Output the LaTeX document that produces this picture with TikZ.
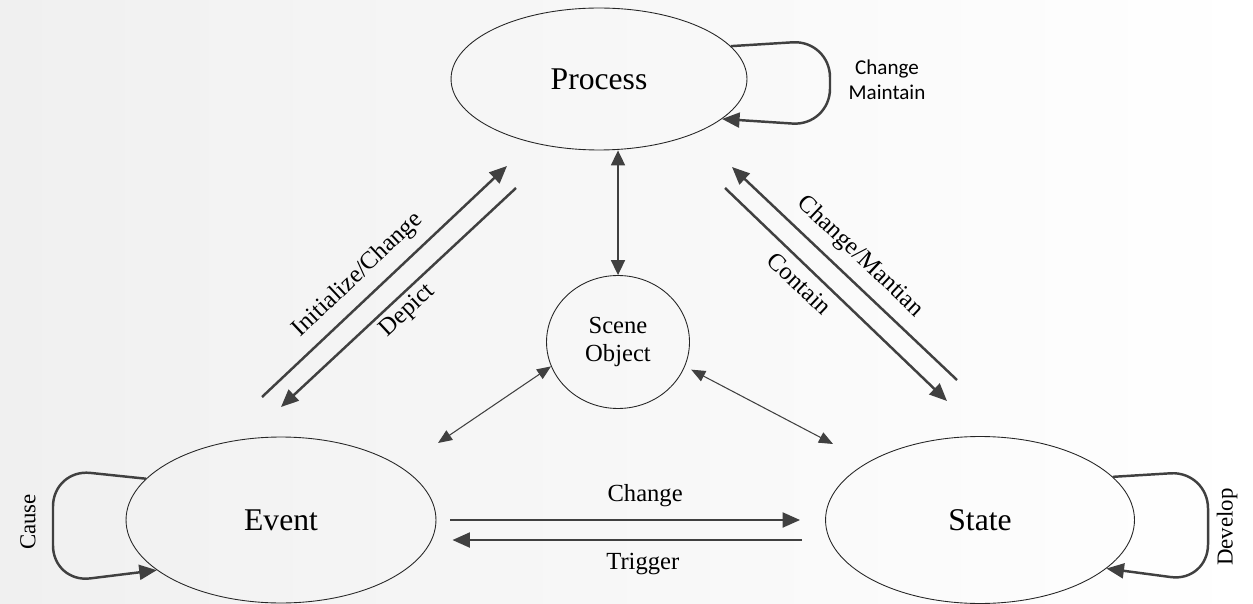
\documentclass[tikz,border=0pt]{standalone}
\usepackage{fontspec}
\setmainfont{Liberation Serif}
\newfontfamily\calibri{Carlito}
\usetikzlibrary{shapes.geometric,arrows.meta}
\definecolor{arrowgray}{RGB}{64,64,64}
\definecolor{bggray}{RGB}{240,240,240}

\begin{document}
\begin{tikzpicture}[x=0.02cm, y=-0.02cm,
    concept/.style={ellipse, draw=black!85, line width=0.5pt, inner sep=0pt, font=\fontsize{18}{20}\selectfont},
    flow/.style={draw=arrowgray, line width=1.4pt, -{Triangle[length=10pt,width=8.5pt]}},
    link/.style={draw=arrowgray, line width=0.6pt, {Triangle[length=8pt,width=6.5pt]}-{Triangle[length=8pt,width=6.5pt]}},
    lbl/.style={font=\fontsize{14}{16}\selectfont, inner sep=1pt}]

    % background
    \shade[left color=bggray, right color=white] (0,0) rectangle (1253,604);
    \useasboundingbox (0,0) rectangle (1253,604);

    % concepts
    \node[concept, minimum width=5.92cm, minimum height=2.84cm] (process) at (599,79) {Process};
    \node[concept, minimum width=6.2cm, minimum height=3.32cm] (event) at (281,520) {Event};
    \node[concept, minimum width=6.18cm, minimum height=3.34cm] (state) at (980,520) {State};
    \node[concept, minimum width=2.86cm, minimum height=2.66cm, align=center, font=\fontsize{14}{16}\selectfont] (scene) at (618,342) {Scene\\Object};

    % Event <-> Process
    \coordinate (ep1) at (262,397);
    \coordinate (ep2) at (507,166);
    \coordinate (pe1) at (516,188);
    \coordinate (pe2) at (281,407);
    \draw[flow] (ep1) -- (ep2) node[lbl, pos=0.456, sloped, above=5pt] (init) {Initialize/Change};
    \draw[flow] (pe1) -- (pe2) node[lbl, pos=0.507, sloped, below=1.5pt] (depict) {Depict};

    % Process <-> State
    \coordinate (sp1) at (957,380);
    \coordinate (sp2) at (732,167);
    \coordinate (ps1) at (725,188);
    \coordinate (ps2) at (947,401);
    \draw[flow] (sp1) -- (sp2) node[lbl, midway, sloped, above=5pt] (mantian) {Change/Mantian};
    \draw[flow] (ps1) -- (ps2) node[lbl, pos=0.39, sloped, below=3.6pt] (contain) {Contain};

    % Event <-> State
    \draw[flow, shorten <=0.28cm, shorten >=0.5cm] (event.east) -- (state.west) node[lbl, pos=0.537, above=5.8pt] (change) {Change};
    \draw[flow, shorten <=0.46cm, shorten >=0.32cm] ([yshift=-11.4pt]state.west) -- ([yshift=-11.4pt]event.east) node[lbl, pos=0.469, below=5.6pt] (trigger) {Trigger};

    % Scene Object links
    \coordinate (evSide) at (438,443);
    \coordinate (stSide) at (833,444);
    \draw[link, line width=0.8pt, {Triangle[length=8.5pt,width=8pt]}-{Triangle[length=8.5pt,width=8pt]}] (process.south -| scene.north) -- (scene.north);
    \draw[link] (scene.200) -- (evSide);
    \draw[link, shorten <=4pt] (scene.-20) -- (stSide);

    % self loops
    \draw[flow, rounded corners=0.75cm] (process.14) -- (830,40) -- (830,126) -- (process.-18);
    \draw[flow, rounded corners=0.75cm] (event.163) -- (53,469) -- (53,583) -- (event.202);
    \draw[flow, rounded corners=0.75cm] (state.18) -- (1208,471) -- (1208,582) -- (state.-21);
    \node[font=\calibri\fontsize{12}{14}\selectfont, align=center] (keep) at (887,80) {Change\\Maintain};
    \node[lbl, rotate=90, font=\fontsize{13}{15}\selectfont] (cause) at (28,522) {Cause};
    \node[lbl, rotate=90, font=\fontsize{13}{15}\selectfont] (develop) at (1227,527) {Develop};

\end{tikzpicture}
\end{document}
